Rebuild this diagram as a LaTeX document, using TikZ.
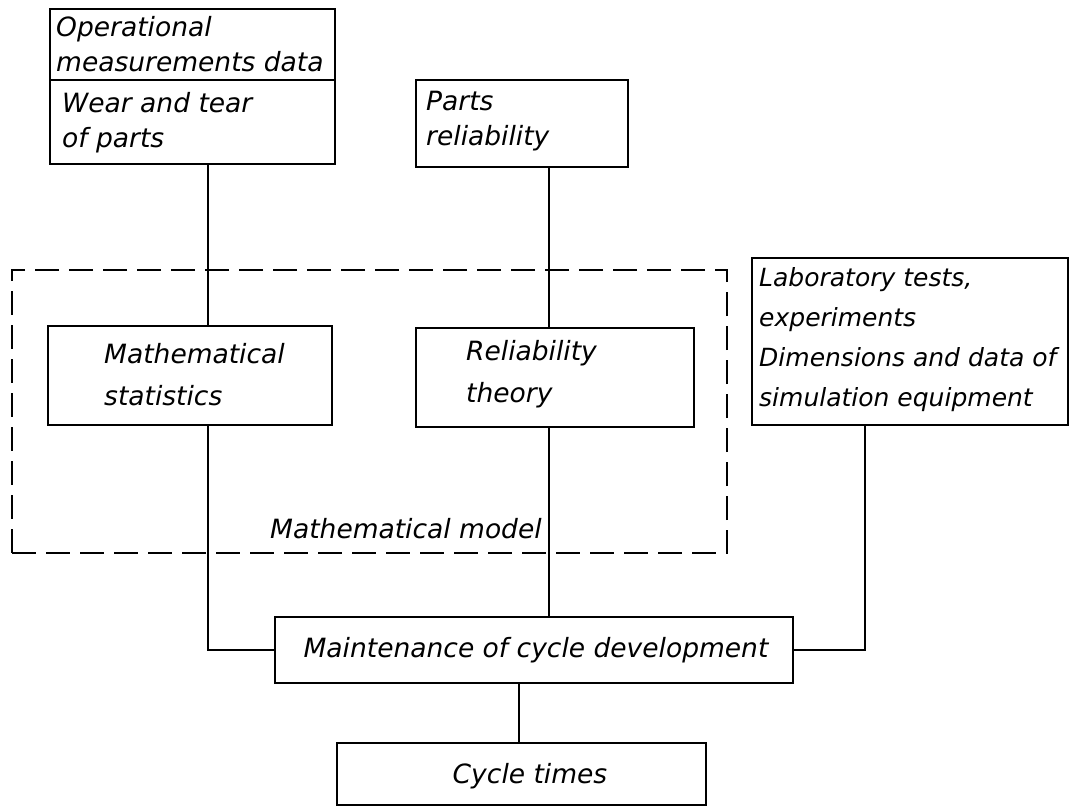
\documentclass[tikz,border=0pt]{standalone}
\usepackage{fontspec}
\setmainfont{DejaVu Sans}
\begin{document}
\begin{tikzpicture}[x=1pt,y=-1pt,
  box/.style={draw,line width=2pt,inner sep=0pt},
  txt/.style={font=\fontsize{26.5}{35}\selectfont\itshape, align=left, inner sep=0pt, anchor=west},
  txtw/.style={font=\fontsize{26.5}{42}\selectfont\itshape, align=left, inner sep=0pt, anchor=west},
  txtl/.style={font=\fontsize{25}{40}\selectfont\itshape, align=left, inner sep=0pt, anchor=west},
  conn/.style={line width=1.4pt}]
\useasboundingbox (0,0) rectangle (1070,809);
% dashed frame
\node[draw, line width=1.5pt, dash pattern=on 24pt off 10pt, minimum width=715pt, minimum height=283pt, inner sep=0pt] (model) at (369.5,411.5) {};
\node[txt] (modelT) at (270,529) {Mathematical model};
% boxes
\node[box, minimum width=285pt, minimum height=71pt] (op) at (192.5,44.5) {};
\node[box, minimum width=285pt, minimum height=84pt] (wear) at (192.5,122) {};
\node[box, minimum width=212pt, minimum height=87pt] (parts) at (522,123.5) {};
\node[box, minimum width=284pt, minimum height=99pt] (mstat) at (190,375.5) {};
\node[box, minimum width=278pt, minimum height=99pt] (rel) at (555,377.5) {};
\node[box, minimum width=316pt, minimum height=167pt] (lab) at (910,341.5) {};
\node[box, minimum width=518pt, minimum height=66pt] (maint) at (534,650) {};
\node[box, minimum width=369pt, minimum height=62pt] (cycle) at (521.5,774) {};
% texts
\node[txt] (opT) at (56,44.5) {Operational\\measurements data};
\node[txt] (wearT) at (62,122.5) {Wear and tear\\of parts};
\node[txt] (partsT) at (426,121) {Parts\\reliability};
\node[txtw] (mstatT) at (104,375) {Mathematical\\statistics};
\node[txtw] (relT) at (466,374) {Reliability\\theory};
\node[txtl] (labT) at (759,340) {Laboratory tests,\\experiments\\Dimensions and data of\\simulation equipment};
\node[txt, anchor=center] (maintT) at (536,650) {Maintenance of cycle development};
\node[txt, anchor=center] (cycleT) at (530,776) {Cycle times};
% connector columns
\coordinate (xa) at (208,0);
\coordinate (xb) at (549,0);
\coordinate (xc) at (865,0);
\coordinate (xd) at (519,0);
\draw[conn] (wear.south -| xa) -- (mstat.north -| xa);
\draw[conn] (parts.south -| xb) -- (rel.north -| xb);
\draw[conn] (mstat.south -| xa) |- (maint.west);
\draw[conn] (rel.south -| xb) -- (maint.north -| xb);
\draw[conn] (lab.south -| xc) |- (maint.east);
\draw[conn] (maint.south -| xd) -- (cycle.north -| xd);
\end{tikzpicture}
\end{document}
